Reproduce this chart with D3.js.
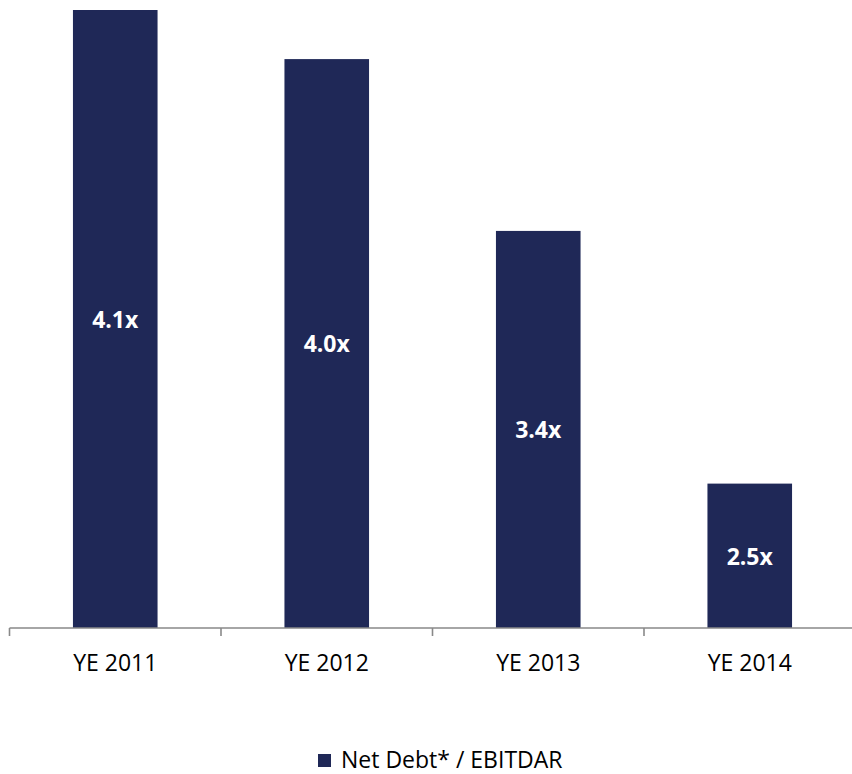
<!DOCTYPE html>
<html>
<head>
<meta charset="utf-8">
<script src="https://cdn.jsdelivr.net/npm/d3@7"></script>
<style>
  body { margin: 0; background: #fff; }
  svg { display: block; font-family: "Open Sans", sans-serif; }
</style>
</head>
<body>
<div id="chart"></div>
<script>
// data
var categories = ['YE 2011', 'YE 2012', 'YE 2013', 'YE 2014'];
var values = [4.14, 3.97, 3.375, 2.5];
var seriesName = 'Net Debt* / EBITDAR';

var width = 852,
    height = 774,
    barColor = '#1f2857',
    axisColor = '#898989';

var margin = { left: 9.5, right: -3.5, top: 10, bottom: 146 };
var chartWidth = width - margin.left - margin.right;
var chartHeight = height - margin.top - margin.bottom;

var svg = d3.select('#chart').append('svg')
    .attr('width', width)
    .attr('height', height);

var g = svg.append('g')
    .attr('transform', 'translate(' + margin.left + ',' + margin.top + ')');

var data = categories.map(function(c, i) { return { id: c, y: values[i] }; });

var xScale = d3.scaleBand()
    .domain(categories)
    .range([0, chartWidth])
    .paddingInner(0.6)
    .paddingOuter(0.3);

// value axis is hidden and starts at 2.0
var yScale = d3.scaleLinear()
    .domain([2, d3.max(values)])
    .range([chartHeight, 0]);

// bars
g.selectAll('rect.bar').data(data).enter().append('rect')
    .attr('class', 'bar')
    .attr('x', function(d) { return xScale(d.id); })
    .attr('y', function(d) { return yScale(d.y); })
    .attr('width', xScale.bandwidth())
    .attr('height', function(d) { return chartHeight - yScale(d.y); })
    .attr('fill', barColor);

// value labels in the middle of each bar
g.selectAll('text.val').data(data).enter().append('text')
    .attr('class', 'val')
    .attr('x', function(d) { return xScale(d.id) + xScale.bandwidth() / 2; })
    .attr('y', function(d) { return (yScale(d.y) + chartHeight) / 2; })
    .attr('dy', '0.38em')
    .attr('text-anchor', 'middle')
    .attr('fill', '#fff')
    .style('font-size', '23px')
    .style('font-weight', 'bold')
    .text(function(d) { return d.y.toFixed(1) + 'x'; });

// category axis: labels from d3 axis, ticks between categories
var xAxis = d3.axisBottom(xScale).tickSize(0).tickPadding(27);
var axisG = g.append('g')
    .attr('class', 'axis x')
    .attr('transform', 'translate(0,' + chartHeight + ')')
    .call(xAxis);
axisG.select('.domain').remove();
axisG.selectAll('text')
    .style('font-family', '"Open Sans", sans-serif')
    .style('font-size', '23px')
    .attr('fill', '#000');

axisG.append('line')
    .attr('x1', 0).attr('x2', chartWidth)
    .attr('y1', 0).attr('y2', 0)
    .attr('stroke', axisColor)
    .attr('stroke-width', 1.6);

var gap = (xScale.step() - xScale.bandwidth()) / 2;
var bounds = categories.map(function(c) { return xScale(c) - gap; });
bounds.push(chartWidth);
axisG.selectAll('line.tick-b').data(bounds).enter().append('line')
    .attr('class', 'tick-b')
    .attr('x1', function(d) { return d; })
    .attr('x2', function(d) { return d; })
    .attr('y1', 0).attr('y2', 8)
    .attr('stroke', axisColor)
    .attr('stroke-width', 1.6);

// legend
var legend = svg.append('g').attr('transform', 'translate(318,754)');
legend.append('rect')
    .attr('width', 13).attr('height', 13)
    .attr('fill', barColor);
legend.append('text')
    .attr('x', 23).attr('y', 14)
    .style('font-size', '23px')
    .attr('fill', '#000')
    .text(seriesName);
</script>
</body>
</html>
